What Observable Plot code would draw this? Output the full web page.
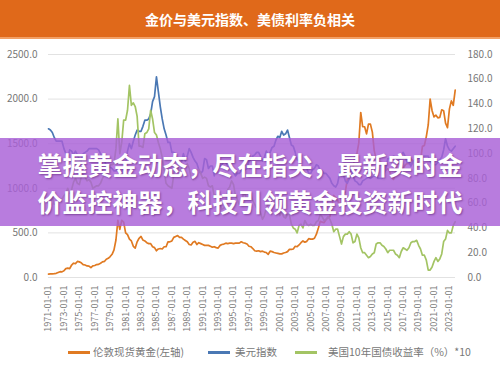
<!DOCTYPE html>
<html><head><meta charset="utf-8">
<script src="https://cdn.jsdelivr.net/npm/d3@7"></script>
<script src="https://cdn.jsdelivr.net/npm/@observablehq/plot@0.6"></script>
<style>
body{margin:0;background:#fff;}
#wrap{position:relative;width:500px;height:366px;overflow:hidden;font-family:"Noto Sans CJK SC",sans-serif;background:#fff;}
#chart{position:absolute;left:0;top:0;}
#title{position:absolute;left:0;top:0;width:500px;height:37px;background:#e0691a;color:#fff;font-weight:bold;font-size:14px;line-height:38px;text-align:center;border-bottom:2px solid #f2a066;}
#banner{position:absolute;left:0;top:138px;width:500px;height:88px;background:rgba(168,95,215,0.82);}
#banner div{color:#fff;font-weight:bold;font-size:25px;line-height:37px;text-align:center;text-shadow:1px 1px 2px rgba(60,0,80,0.45);white-space:nowrap;}
.sw{position:absolute;top:351px;width:22px;height:3px;}
.lt{position:absolute;top:344px;font-size:10.5px;color:#777;line-height:16px;white-space:nowrap;}
</style></head>
<body><div id="wrap"></div>
<script>
const titleText = "金价与美元指数、美债利率负相关";
const bannerLines = ["掌握黄金动态，尽在指尖，最新实时金","价监控神器，科技引领黄金投资新时代"];
const seriesNames = ["伦敦现货黄金(左轴)","美元指数","美国10年国债收益率（%）*10"];
const seriesColors = ["#e07a22","#4a78b4","#a3c464"];
const leftTicks = [0,500,1000,1500,2000,2500];
const rightTicks = [0,20,40,60,80,100,120,140,160,180];
const tickYears = d3.range(1971, 2024, 2);
const startYear = 1971;
// quarterly values, 1971Q1 .. 2023Q4
const gold = [
38,40,41,43, 47,56,65,63, 75,100,105,100, 140,160,155,180, 175,165,145,140,
130,127,110,130, 135,145,147,160, 175,180,205,215, 235,260,310,420, 640,540,640,620,
500,480,430,410, 350,330,400,440, 460,420,410,390, 380,380,345,335, 300,320,325,320,
345,345,400,400, 410,450,460,470, 450,450,430,415, 400,370,365,395, 405,370,390,380,
370,360,360,360, 350,340,345,335, 330,360,370,375, 385,380,385,385, 380,385,385,385,
400,390,385,375, 350,345,325,300, 295,300,290,295, 285,280,260,295, 290,280,275,270,
265,265,275,280, 290,315,315,320, 350,345,365,390, 410,395,405,435, 430,430,440,485,
555,630,620,615, 650,670,680,790, 920,895,870,795, 910,920,960,1100, 1110,1200,1230,1370,
1390,1510,1850,1690, 1690,1610,1720,1720, 1630,1420,1330,1270, 1290,1290,1280,1200, 1220,1190,1120,1100,
1180,1260,1330,1220, 1220,1260,1280,1275, 1330,1310,1210,1230, 1300,1310,1470,1480, 1580,1710,2000,1870,
1800,1820,1790,1795, 1880,1870,1730,1680, 1890,1980,1930,2100
];
const dollarIndex = [
120,119,117,113, 110,110,110,110, 104,100,96,103, 102,99,102,99, 95,94,100,101,
102,104,104,104, 104,104,103,100, 96,95,90,89, 89,88,86,86, 88,86,84,88,
92,102,108,104, 110,115,119,118, 118,122,127,127, 128,132,142,146, 162,150,138,128,
120,115,109,109, 101,101,100,93, 91,93,100,94, 98,104,101,97, 94,92,87,84,
86,96,95,88, 90,90,82,89, 92,90,91,94, 93,90,88,89, 85,82,84,84,
86,88,87,88, 94,95,98,99, 101,101,98,94, 97,102,99,101, 105,106,111,114,
113,118,115,116, 119,113,107,106, 101,95,95,90, 87,89,88,84, 84,87,88,91,
90,86,86,84, 84,82,80,76, 74,73,76,84, 86,83,78,76, 80,86,82,78,
77,75,75,78, 79,80,81,80, 81,82,82,80, 80,80,83,88, 96,96,96,98,
97,94,95,99, 101,98,93,93, 90,93,95,96, 96,97,98,98, 98,98,94,91,
91,91,93,95, 97,103,112,106, 103,102,104,106
];
const treasuryYield = [
6.0,5.9,6.5,5.9, 6.0,6.1,6.3,6.3, 6.6,6.8,7.2,6.8, 7.1,7.7,8.0,7.6, 7.5,8.1,8.3,8.1,
7.8,7.9,7.7,7.2, 7.3,7.4,7.4,7.6, 8.0,8.3,8.5,8.8, 9.1,9.1,9.2,10.4, 12.8,10.0,10.9,12.7,
12.7,13.5,15.5,13.9, 14.1,13.8,13.0,10.6, 10.6,10.5,11.6,11.7, 12.0,13.5,12.8,11.7, 11.5,10.9,10.4,9.7,
8.6,7.6,7.4,7.3, 7.2,8.3,9.0,9.1, 8.4,8.9,9.1,8.9, 9.2,8.8,8.1,7.9, 8.4,8.7,8.7,8.4,
8.0,8.1,8.0,7.4, 7.3,7.4,6.6,6.7, 6.3,5.9,5.5,5.6, 6.1,7.1,7.3,7.8, 7.5,6.6,6.3,5.9,
5.9,6.7,6.7,6.3, 6.6,6.7,6.2,5.9, 5.6,5.6,5.2,4.7, 5.0,5.6,5.9,6.1, 6.5,6.2,5.9,5.6,
5.0,5.3,4.9,4.8, 5.1,5.1,4.3,4.0, 3.9,3.6,4.2,4.3, 4.0,4.6,4.3,4.2, 4.3,4.2,4.2,4.5,
4.6,5.1,4.9,4.6, 4.7,4.9,4.7,4.3, 3.7,3.9,3.9,3.3, 2.7,3.3,3.5,3.5, 3.7,3.5,2.8,2.9,
3.5,3.2,2.4,2.0, 2.0,1.8,1.6,1.7, 1.9,2.0,2.7,2.8, 2.8,2.6,2.5,2.3, 2.0,2.2,2.2,2.2,
1.9,1.8,1.6,2.1, 2.4,2.3,2.2,2.4, 2.8,2.9,2.9,3.0, 2.6,2.3,1.8,1.8, 1.4,0.6,0.6,0.85,
1.3,1.6,1.3,1.5, 1.9,2.9,3.1,3.8, 3.6,3.6,4.2,4.5
];

const rightMax = 180, leftMax = 2500;
const toLeft = v => v * leftMax / rightMax;
const rows = gold.map((g, i) => ({
  date: new Date(Date.UTC(startYear, 3 * i, 1)),
  gold: g, dxy: dollarIndex[i], yld: treasuryYield[i]
}));
const xTicks = tickYears.map(y => new Date(Date.UTC(y, 0, 1)));

const chart = Plot.plot({
  width: 500, height: 345,
  marginTop: 54, marginBottom: 68, marginLeft: 48, marginRight: 45,
  style: {fontFamily: '"Noto Sans CJK SC", sans-serif', fontSize: "10px", color: "#777", background: "transparent"},
  x: {type: "utc", domain: [new Date(Date.UTC(1971,0,1)), new Date(Date.UTC(2023,9,15))]},
  y: {domain: [0, leftMax]},
  marks: [
    Plot.gridY(leftTicks, {stroke: "#e2e2e2", strokeOpacity: 1}),
    Plot.axisY(leftTicks, {anchor: "left", tickSize: 0, tickPadding: 11, tickFormat: d => d.toFixed(1), label: null}),
    Plot.axisY(rightTicks.map(toLeft), {anchor: "right", tickSize: 0, tickPadding: 12, tickFormat: d => (d * rightMax / leftMax).toFixed(1), label: null}),
    Plot.axisX(xTicks, {anchor: "bottom", tickSize: 0, tickPadding: 8, tickRotate: -90, tickFormat: d3.utcFormat("%Y-%m-%d"), label: null, fontSize: 9}),
    Plot.lineY(rows, {x: "date", y: "gold", stroke: seriesColors[0], strokeWidth: 1.7}),
    Plot.lineY(rows, {x: "date", y: d => toLeft(d.dxy), stroke: seriesColors[1], strokeWidth: 1.7}),
    Plot.lineY(rows, {x: "date", y: d => toLeft(d.yld * 10), stroke: seriesColors[2], strokeWidth: 1.7})
  ]
});
chart.id = "chart";
const wrap = document.getElementById("wrap");
wrap.appendChild(chart);

const t = document.createElement("div"); t.id = "title"; t.textContent = titleText; wrap.appendChild(t);
const b = document.createElement("div"); b.id = "banner";
b.style.paddingTop = "8px"; b.style.boxSizing = "border-box";
bannerLines.forEach(s => { const d = document.createElement("div"); d.textContent = s; b.appendChild(d); });
wrap.appendChild(b);

const legX = [[68,93],[208,235],[295,328]];
seriesNames.forEach((n, i) => {
  const s = document.createElement("div"); s.className = "sw"; s.style.left = legX[i][0] + "px"; s.style.background = seriesColors[i]; wrap.appendChild(s);
  const l = document.createElement("div"); l.className = "lt"; l.style.left = legX[i][1] + "px"; l.textContent = n; wrap.appendChild(l);
});
</script></body></html>
